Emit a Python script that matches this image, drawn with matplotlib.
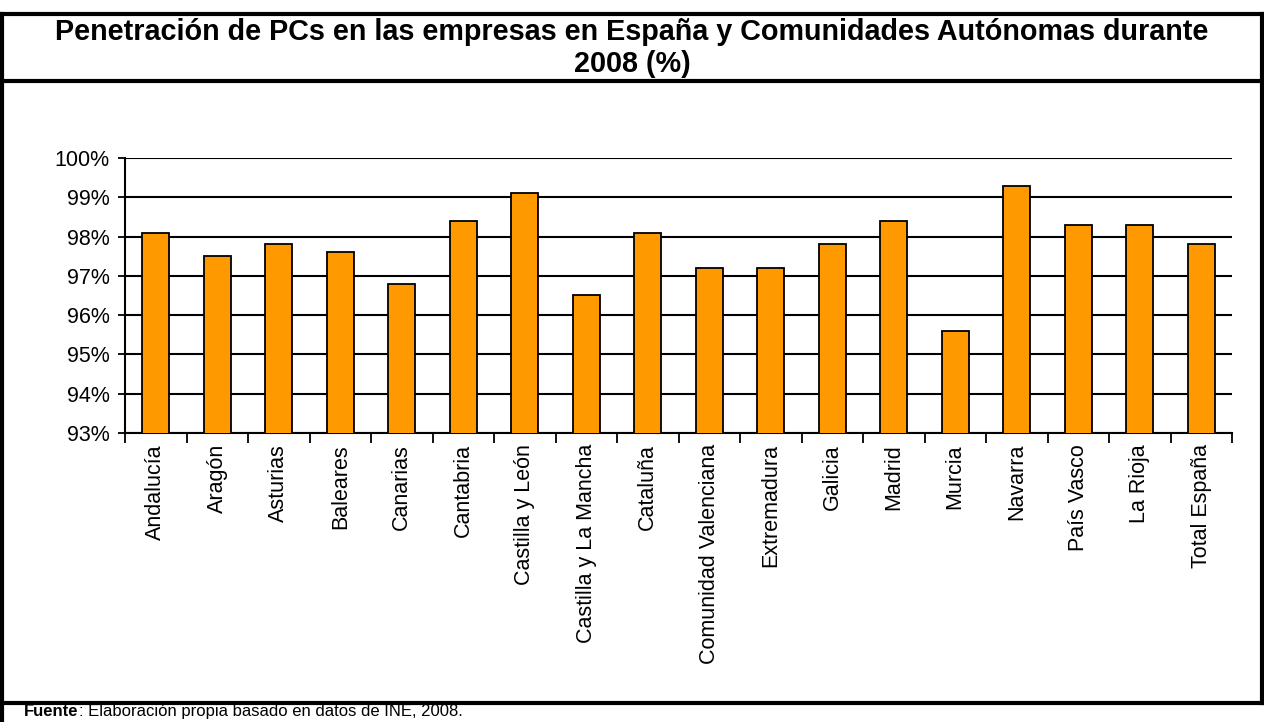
import numpy as np
import matplotlib.pyplot as plt
from matplotlib.lines import Line2D
from matplotlib.ticker import FixedLocator, PercentFormatter

plt.rcParams['font.family'] = ['Liberation Sans', 'DejaVu Sans']

# Datos
regiones = ['Andalucía', 'Aragón', 'Asturias', 'Baleares', 'Canarias', 'Cantabria',
            'Castilla y León', 'Castilla y La Mancha', 'Cataluña', 'Comunidad Valenciana',
            'Extremadura', 'Galicia', 'Madrid', 'Murcia', 'Navarra', 'País Vasco',
            'La Rioja', 'Total España']
penetracion = [98.1, 97.5, 97.8, 97.6, 96.8, 98.4, 99.1, 96.5, 98.1, 97.2,
               97.2, 97.8, 98.4, 95.6, 99.3, 98.3, 98.3, 97.8]

W, H = 1264, 722
fig = plt.figure(figsize=(W / 100, H / 100), dpi=100)

ax = fig.add_axes([125 / W, 1 - 433 / H, (1232 - 125) / W, (433 - 158) / H])
x = np.arange(len(regiones))
ax.set_axisbelow(True)
ax.yaxis.grid(True, color='black', linewidth=1.5)
ax.bar(x, penetracion, width=0.44, color='#ff9900', edgecolor='black',
       linewidth=1.3, zorder=3)

ax.set_ylim(93, 100)
ax.set_xlim(-0.5, len(regiones) - 0.5)
ax.set_yticks(range(93, 101))
ax.yaxis.set_major_formatter(PercentFormatter(decimals=0))
ax.tick_params(axis='y', labelsize=15.5, length=5, width=1.3, direction='out', pad=6)

# ticks between categories, labels at centres
ax.xaxis.set_major_locator(FixedLocator(np.arange(-0.5, len(regiones), 1)))
ax.xaxis.set_minor_locator(FixedLocator(x))
ax.tick_params(axis='x', which='major', labelbottom=False, length=7, width=1.3)
ax.tick_params(axis='x', which='minor', length=0, labelsize=15.5, pad=8)
ax.set_xticklabels(regiones, minor=True, rotation=90)

for s in ['top', 'right']:
    ax.spines[s].set_visible(False)
for s in ['left', 'bottom']:
    ax.spines[s].set_linewidth(1.5)

# marco del gráfico
def hline(y, x0=0.0, x1=1.0):
    fig.add_artist(Line2D([x0, x1], [1 - y / H, 1 - y / H], color='black', lw=3,
                          transform=fig.transFigure))

def vline(xp, y0, y1):
    fig.add_artist(Line2D([xp / W, xp / W], [1 - y0 / H, 1 - y1 / H], color='black', lw=3,
                          transform=fig.transFigure))

hline(14)
hline(81)
hline(703)
vline(2, 14, 722)
vline(1262, 14, 703)

fig.text(0.5, 1 - 48 / H,
         'Penetración de PCs en las empresas en España y Comunidades Autónomas durante\n2008 (%)',
         ha='center', va='center', fontsize=20.7, fontweight='bold', linespacing=1.2)

fig.text(24 / W, 1 - 716 / H, 'Fuente', fontsize=12, fontweight='bold', va='baseline')
fig.text(79 / W, 1 - 716 / H, ': Elaboración propia basado en datos de INE, 2008.',
         fontsize=12, va='baseline')

fig.savefig('out.png', dpi=100)
